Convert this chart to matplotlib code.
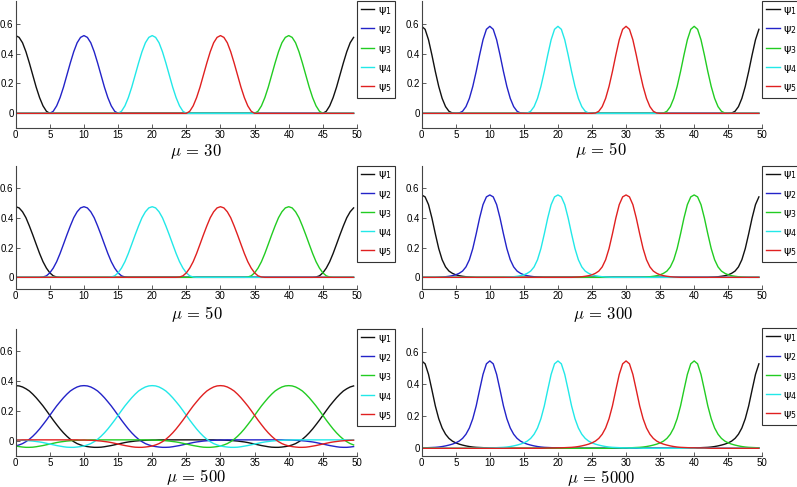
import numpy as np
import matplotlib
matplotlib.use("Agg")
import matplotlib.pyplot as plt

# grid and mode centres (periodic domain of length 50)
x = np.arange(0, 50, 0.5)
centers = [0, 10, 40, 20, 30]          # psi_1 .. psi_5
names = ['ψ$_1$', 'ψ$_2$', 'ψ$_3$', 'ψ$_4$', 'ψ$_5$']
colors = ['#111111', '#2323c8', '#22cc22', '#22e8e8', '#e02020']

mu_labels = ['30', '50', '50', '300', '500', '5000']

# bump profiles, distance from centre 0, 0.5, ..., 25
prof_30 = [0.520, 0.508, 0.472, 0.412, 0.337, 0.256, 0.175, 0.105, 0.050, 0.014,
           0.0] + [0.0] * 40
prof_50b = [0.582, 0.562, 0.492, 0.390, 0.280, 0.180, 0.100, 0.045, 0.014, 0.002,
            0.0] + [0.0] * 40
prof_50a = [0.474, 0.466, 0.440, 0.400, 0.345, 0.285, 0.222, 0.160, 0.105, 0.062,
            0.030, 0.010, 0.002, 0.0] + [0.0] * 37
prof_300 = [0.553, 0.540, 0.488, 0.398, 0.292, 0.193, 0.118, 0.070, 0.042, 0.027,
            0.017, 0.011, 0.007, 0.004, 0.002, 0.001] + [0.0] * 35
prof_500 = [0.371, 0.369, 0.362, 0.350, 0.335, 0.314, 0.290, 0.263, 0.235, 0.204,
            0.172, 0.140, 0.110, 0.081, 0.055, 0.032, 0.012, -0.004, -0.017, -0.026,
            -0.033, -0.037, -0.040, -0.042, -0.042, -0.041, -0.038, -0.034, -0.030, -0.025,
            -0.020, -0.015, -0.010, -0.006, -0.003, 0.000, 0.002, 0.004, 0.005, 0.006,
            0.007, 0.007, 0.008, 0.008, 0.008, 0.008, 0.008, 0.008, 0.008, 0.008,
            0.008]
prof_5000 = [0.546, 0.528, 0.462, 0.365, 0.265, 0.185, 0.127, 0.088, 0.062, 0.045,
             0.034, 0.026, 0.020, 0.015, 0.011, 0.008, 0.006, 0.005, 0.004, 0.003,
             0.003, 0.002, 0.002, 0.002, 0.001] + [0.0] * 26

profiles = [prof_30, prof_50b, prof_50a, prof_300, prof_500, prof_5000]

W, H = 797, 487
fig = plt.figure(figsize=(W / 100, H / 100), dpi=100)

# axes boxes in pixels: left, top, right, bottom ; ylim
boxes = [
    (15.7, 1.2, 357.0, 128.3, (-0.1, 0.75)),
    (421.7, 1.2, 762.3, 128.3, (-0.1, 0.75)),
    (15.7, 165.6, 357.0, 288.5, (-0.075, 0.75)),
    (421.7, 165.6, 762.3, 288.5, (-0.075, 0.75)),
    (15.7, 329.0, 357.0, 456.0, (-0.1, 0.75)),
    (421.7, 328.3, 762.3, 456.3, (-0.05, 0.75)),
]
label_pos = [(196, 151.5), (600.5, 150.5), (196.5, 314.3),
             (603, 315), (196, 477.3), (601.5, 478.3)]

for k in range(6):
    l, t, r, b, yl = boxes[k]
    ax = fig.add_axes([l / W, 1 - b / H, (r - l) / W, (b - t) / H])
    prof = np.array(profiles[k])
    for c, name, col in zip(centers, names, colors):
        d = np.abs(x - c)
        d = np.minimum(d, 50 - d)
        y = prof[np.round(d / 0.5).astype(int)]
        ax.plot(x, y, color=col, lw=1.0, label=name)
    ax.set_xlim(0, 50)
    ax.set_ylim(*yl)
    ax.set_xticks(range(0, 51, 5))
    ax.set_yticks([0, 0.2, 0.4, 0.6])
    ax.set_yticklabels(['0', '0.2', '0.4', '0.6'])
    for s in ['top', 'right']:
        ax.spines[s].set_visible(False)
    for s in ['left', 'bottom']:
        ax.spines[s].set_color('#444444')
        ax.spines[s].set_linewidth(0.8)
    ax.tick_params(direction='in', length=3, width=0.6, color='#444444',
                   labelsize=7, pad=1.5)
    for lab in ax.get_xticklabels() + ax.get_yticklabels():
        lab.set_fontfamily('Liberation Sans')
    leg = ax.legend(loc='upper left', bbox_to_anchor=(1.0, 1.0), borderaxespad=0,
                    fontsize=8, handlelength=1.2, handletextpad=0.3,
                    labelspacing=0.65, borderpad=0.35, fancybox=False,
                    framealpha=1)
    leg.get_frame().set_edgecolor('#333333')
    leg.get_frame().set_linewidth(0.8)
    fig.text(label_pos[k][0] / W, 1 - label_pos[k][1] / H,
             r'$\mu\, =\, %s$' % mu_labels[k], ha='center', va='center',
             fontsize=12, math_fontfamily='cm')

fig.savefig('out.png', dpi=100)
